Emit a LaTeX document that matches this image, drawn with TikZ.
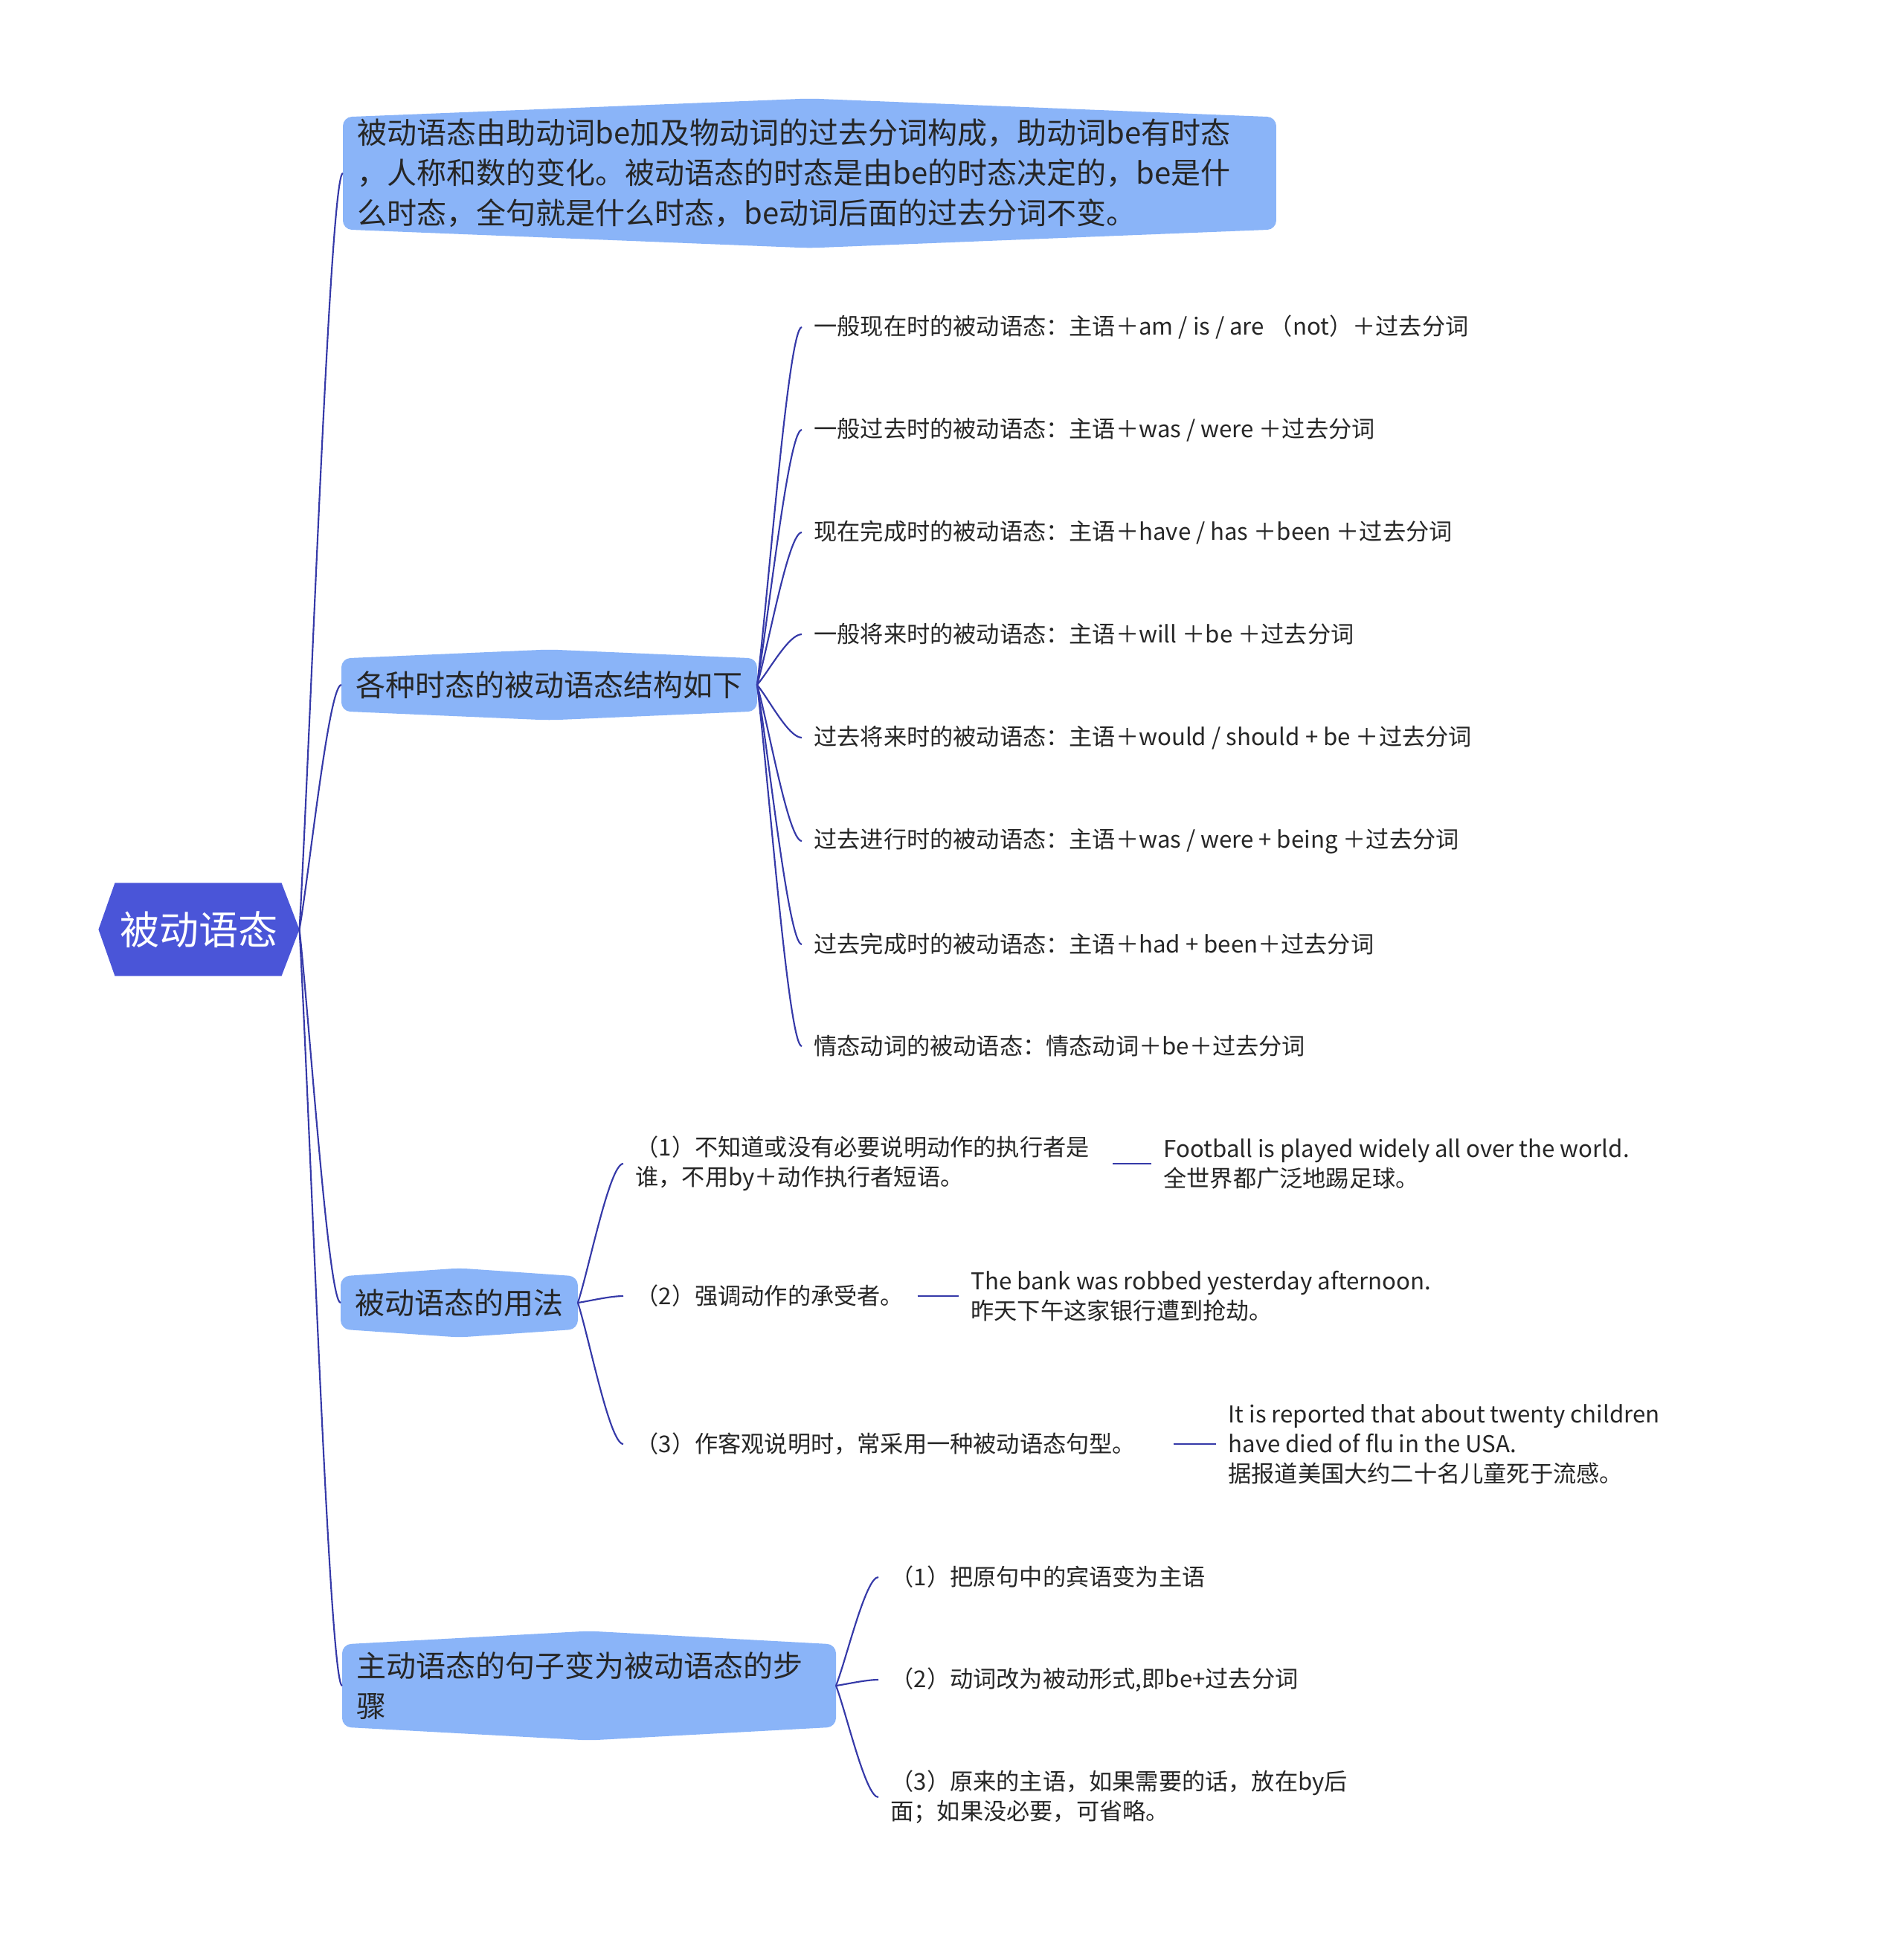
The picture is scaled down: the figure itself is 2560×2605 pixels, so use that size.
\documentclass[tikz,border=0pt]{standalone}
\usepackage{fontspec}
\setmainfont{Noto Sans CJK SC}
\usetikzlibrary{calc,backgrounds}
\definecolor{rootc}{HTML}{4A55D8}
\definecolor{lvlone}{HTML}{8AB4F8}
\definecolor{linec}{HTML}{3539A8}
\definecolor{txt}{HTML}{262626}
\tikzset{
  rootnode/.style={inner sep=0pt, minimum width=100.9pt, minimum height=46.5pt, text=white,
    font=\fontsize{19.9pt}{24pt}\selectfont},
  topic/.style={anchor=west, inner xsep=7.1pt, inner ysep=0pt, text=txt, align=left,
    font=\fontsize{15pt}{20.3pt}\selectfont},
  leaf/.style={anchor=west, inner xsep=6pt, inner ysep=2pt, text=txt, align=left,
    font=\fontsize{11.7pt}{15pt}\selectfont},
  conn/.style={draw=linec, line width=0.8pt},
  stub/.style={draw=linec, line width=1.1pt},
}
\newcommand\topicshape[2]{%
  \fill[lvlone, rounded corners=4.5pt] (#1.north west) -- ($(#1.north)+(0,-#2)$) -- (#1.north east)
    -- (#1.south east) -- ($(#1.south)+(0,#2)$) -- (#1.south west) -- cycle;}
\newcommand\curveto[2]{%
  \draw[conn] let \p1=(#1), \p2=(#2) in (\p1) .. controls ({\x1+0.25*(\x2-\x1)},{\y1+0.25*(\y2-\y1)})
    and ({\x1+0.7*(\x2-\x1)},{\y2}) .. (\p2);}
\begin{document}
\begin{tikzpicture}[x=0.375pt,y=-0.375pt]
\useasboundingbox (0,0) rectangle (2560,2605);

% root
\node[rootnode] (root) at (267.5,1250) {被动语态};

% level one
\node[topic, text width=456pt, minimum height=56.25pt] (A) at (461,233)
  {被动语态由助动词be加及物动词的过去分词构成，助动词be有时态\\，人称和数的变化。被动语态的时态是由be的时态决定的，be是什\\么时态，全句就是什么时态，be动词后面的过去分词不变。};
\node[topic, minimum height=26.25pt] (B) at (459,921) {各种时态的被动语态结构如下};
\node[topic, minimum height=26.25pt] (C) at (458,1752) {被动语态的用法};
\node[topic, text width=234.4pt, minimum height=41.25pt] (D) at (460,2267)
  {主动语态的句子变为被动语态的步\\骤};

\begin{scope}[on background layer]
  \fill[white] (0,0) rectangle (2560,2605);
  \fill[rootc] (root.west) -- ($(root.north west)+(22,0)$) -- ($(root.north east)+(-24,0)$)
    -- (root.east) -- ($(root.south east)+(-24,0)$) -- ($(root.south west)+(22,0)$) -- cycle;
  \topicshape{A}{25}
  \topicshape{B}{12}
  \topicshape{C}{11}
  \topicshape{D}{18}
\end{scope}

% children of B
\node[leaf] (b1) at (1078,440) {一般现在时的被动语态：主语＋am / is / are （not）＋过去分词};
\node[leaf] (b2) at (1078,578) {一般过去时的被动语态：主语＋was / were ＋过去分词};
\node[leaf] (b3) at (1078,716) {现在完成时的被动语态：主语＋have / has ＋been ＋过去分词};
\node[leaf] (b4) at (1078,853) {一般将来时的被动语态：主语＋will ＋be ＋过去分词};
\node[leaf] (b5) at (1078,992) {过去将来时的被动语态：主语＋would / should + be ＋过去分词};
\node[leaf] (b6) at (1078,1131) {过去进行时的被动语态：主语＋was / were + being ＋过去分词};
\node[leaf] (b7) at (1078,1270) {过去完成时的被动语态：主语＋had + been＋过去分词};
\node[leaf] (b8) at (1078,1407) {情态动词的被动语态：情态动词＋be＋过去分词};

% children of C
\node[leaf, text width=234.4pt] (c1) at (838,1565)
  {（1）不知道或没有必要说明动作的执行者是\\谁，不用by＋动作执行者短语。};
\node[leaf, text width=136pt] (c2) at (838,1743) {（2）强调动作的承受者。};
\node[leaf, text width=265pt] (c3) at (838,1942) {（3）作客观说明时，常采用一种被动语态句型。};
\node[leaf] (s1) at (1548,1565) {Football is played widely all over the world.\\全世界都广泛地踢足球。};
\node[leaf] (s2) at (1289,1743) {The bank was robbed yesterday afternoon.\\昨天下午这家银行遭到抢劫。};
\node[leaf] (s3) at (1635,1942) {It is reported that about twenty children\\have died of flu in the USA.\\据报道美国大约二十名儿童死于流感。};

% children of D
\node[leaf] (d1) at (1181,2121) {（1）把原句中的宾语变为主语};
\node[leaf] (d2) at (1181,2259) {（2）动词改为被动形式,即be+过去分词};
\node[leaf] (d3) at (1181,2417) {（3）原来的主语，如果需要的话，放在by后\\面；如果没必要，可省略。};

% connectors
\curveto{root.east}{A.west}
\curveto{root.east}{B.west}
\curveto{root.east}{C.west}
\curveto{root.east}{D.west}
\foreach \kid in {b1,b2,b3,b4,b5,b6,b7,b8}{\curveto{B.east}{\kid.west}}
\foreach \kid in {c1,c2,c3}{\curveto{C.east}{\kid.west}}
\foreach \kid in {d1,d2,d3}{\curveto{D.east}{\kid.west}}
\draw[stub] (c1.east) -- (s1.west);
\draw[stub] (c2.east) -- (s2.west);
\draw[stub] (c3.east) -- (s3.west);
\end{tikzpicture}
\end{document}
